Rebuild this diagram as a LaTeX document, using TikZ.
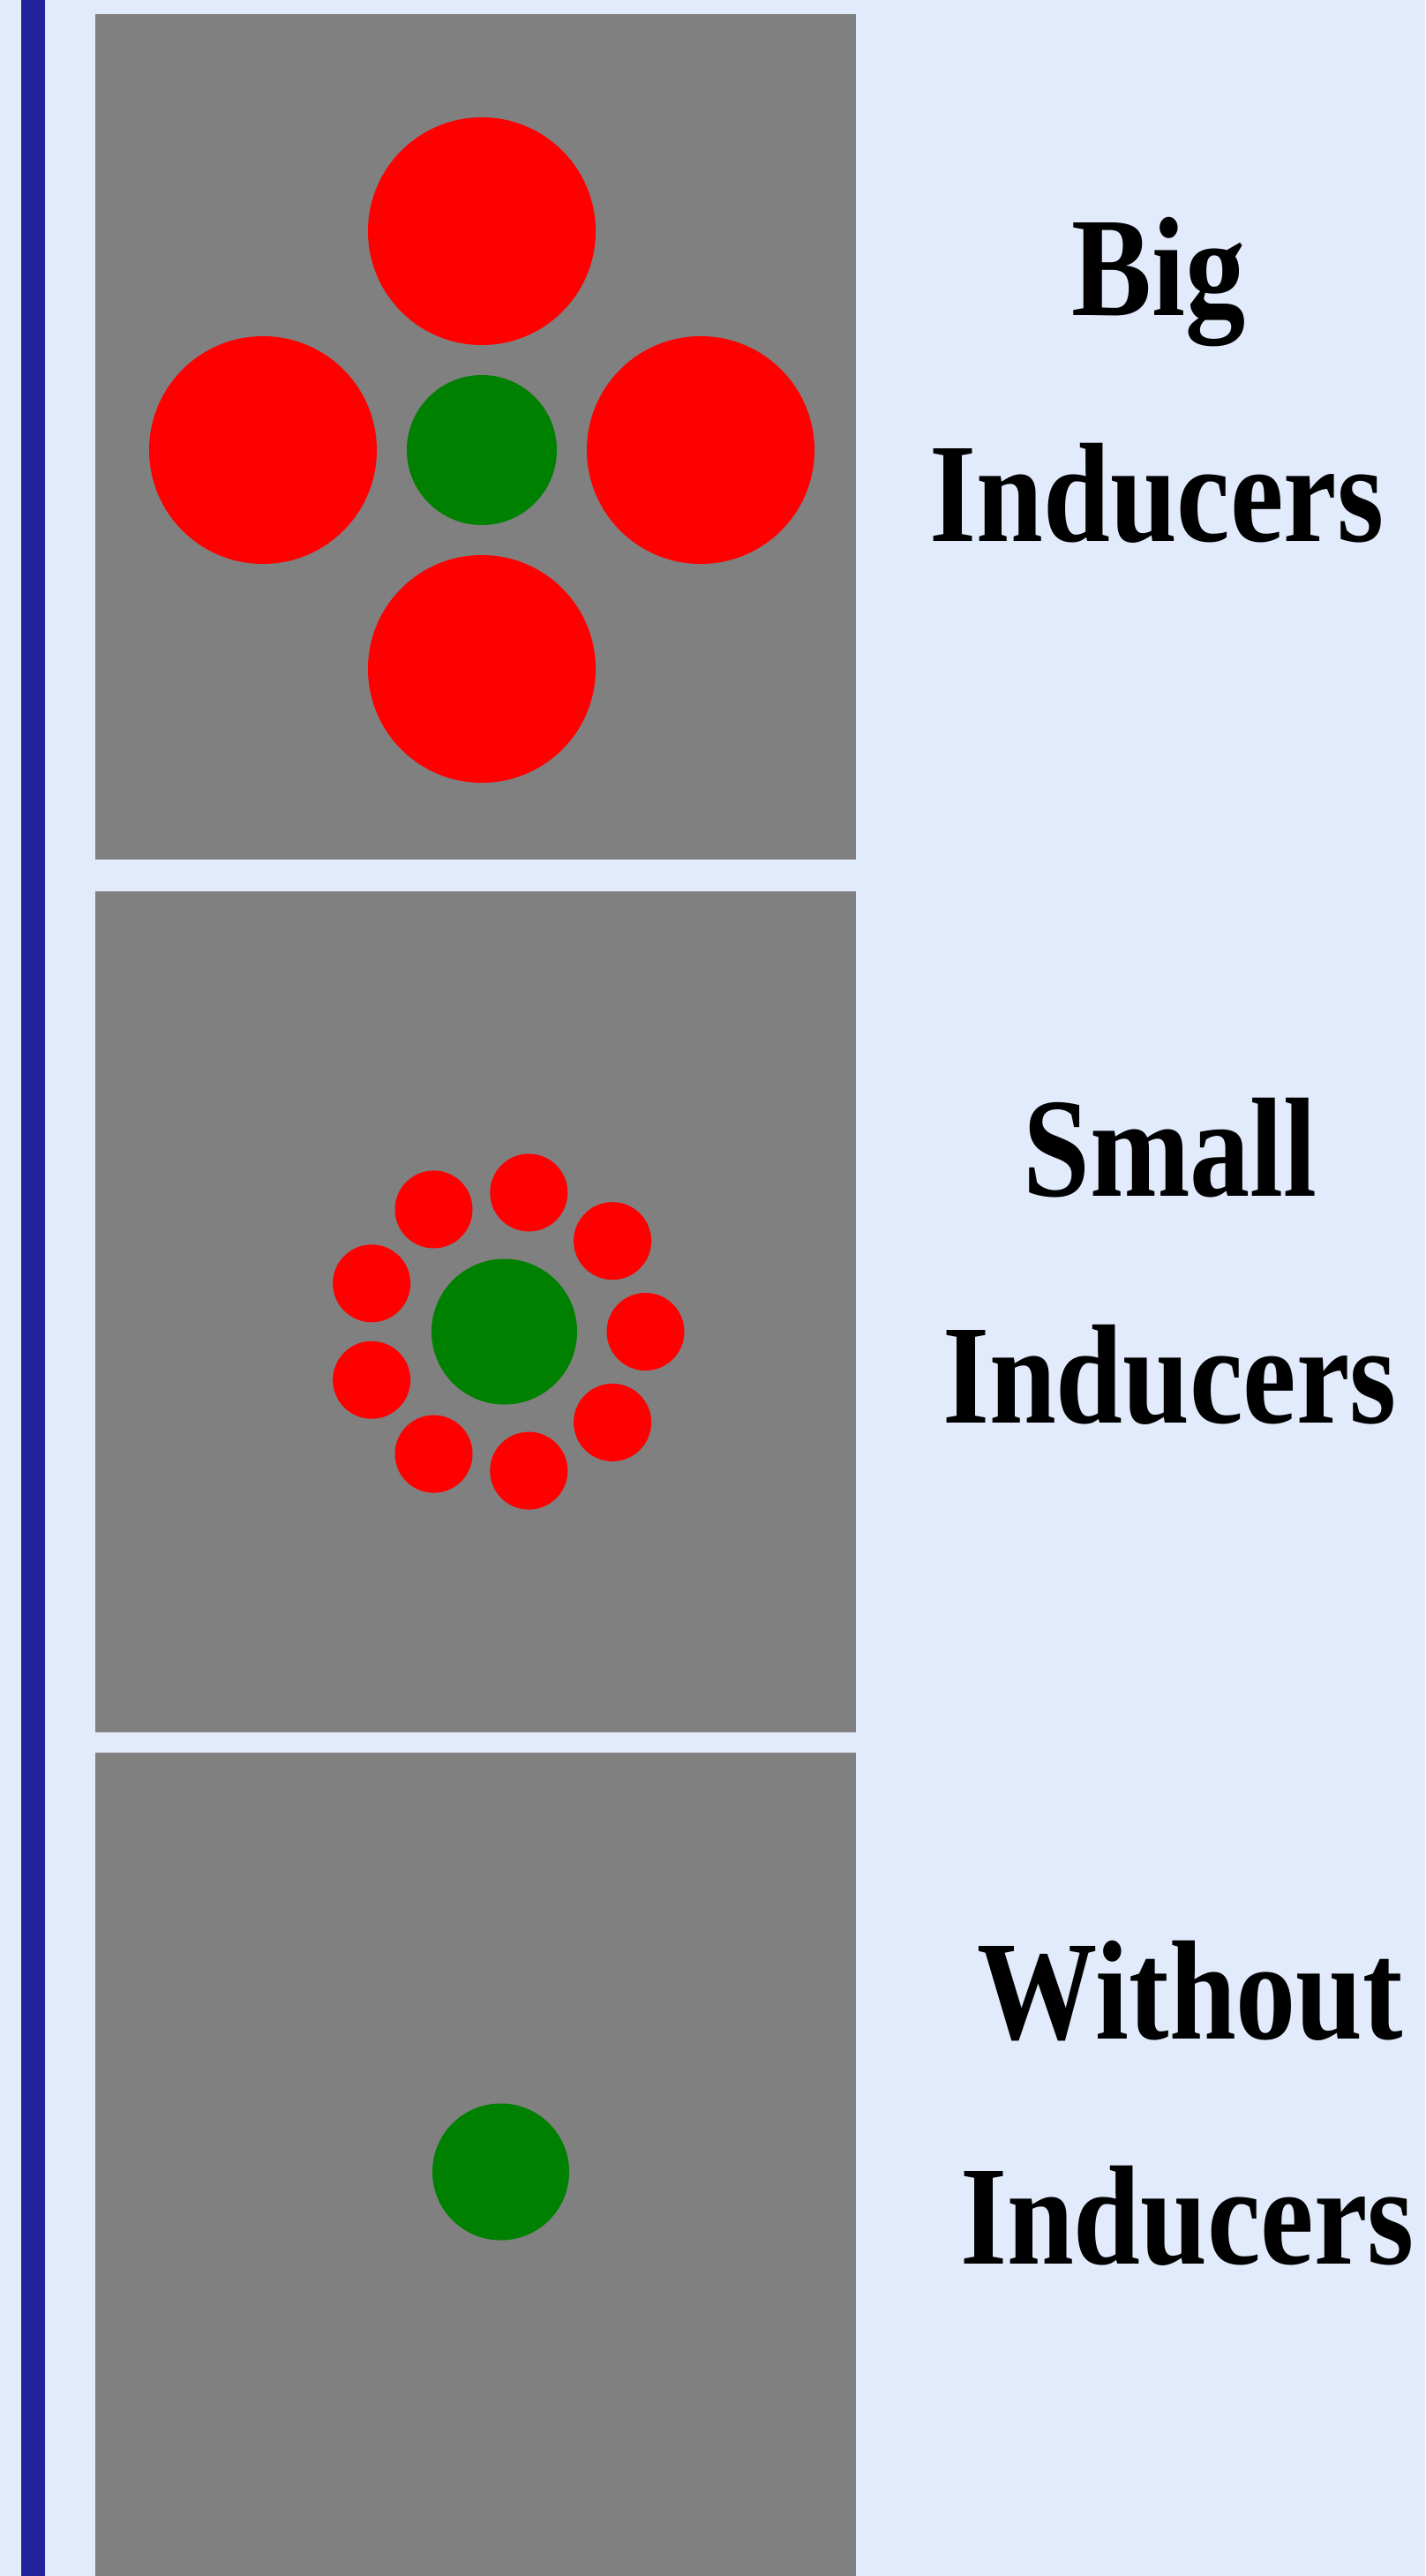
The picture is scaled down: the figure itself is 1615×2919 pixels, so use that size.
\documentclass[tikz,border=0pt]{standalone}
\usepackage{fontspec}
\setmainfont{Liberation Serif}
\usepackage{xcolor}
\usepackage{tikz}
\definecolor{paper}{HTML}{E1EBFB}
\definecolor{rule}{HTML}{22229C}
\definecolor{field}{HTML}{808080}
\definecolor{inducerred}{HTML}{FF0000}
\definecolor{targetgreen}{HTML}{008000}
\tikzset{
  panel/.style={fill=field},
  inducer/.style={fill=inducerred},
  target/.style={fill=targetgreen},
  caption/.style={anchor=base,inner sep=0pt,text=black,
                  font=\fontsize{45.6}{50}\selectfont\bfseries,xscale=.85,transform shape}
}
\begin{document}
\begin{tikzpicture}[x=0.01cm,y=0.01cm]
  \useasboundingbox (0,0) rectangle (1615,-2919);
  \fill[paper] (0,0) rectangle (1615,-2919);
  \fill[rule] (24,0) rectangle (51,-2919);
  \fill[panel] (108,-16) rectangle (970,-974);
  \fill[panel] (108,-1010) rectangle (970,-1963);
  \fill[panel] (108,-1986) rectangle (970,-2919);
  \foreach \a in {0,90,180,270}{\fill[inducer] (546,-510) ++(\a:248) circle (129);}
  \fill[target] (546,-510) circle (85);
  \foreach \a in {0,40,...,320}{\fill[inducer] (571.5,-1509) ++(\a:160) circle (44);}
  \fill[target] (571.5,-1509) circle (82.5);
  \fill[target] (567.5,-2461) circle (77.5);
  \node[caption] (bigA) at (1313,-358) {Big};
  \node[caption] (bigB) at (1311,-614) {Inducers};
  \node[caption] (smallA) at (1326,-1355) {Small};
  \node[caption] (smallB) at (1325.5,-1612) {Inducers};
  \node[caption] (noneA) at (1349,-2310) {Without};
  \node[caption] (noneB) at (1345.5,-2565) {Inducers};
\end{tikzpicture}
\end{document}
